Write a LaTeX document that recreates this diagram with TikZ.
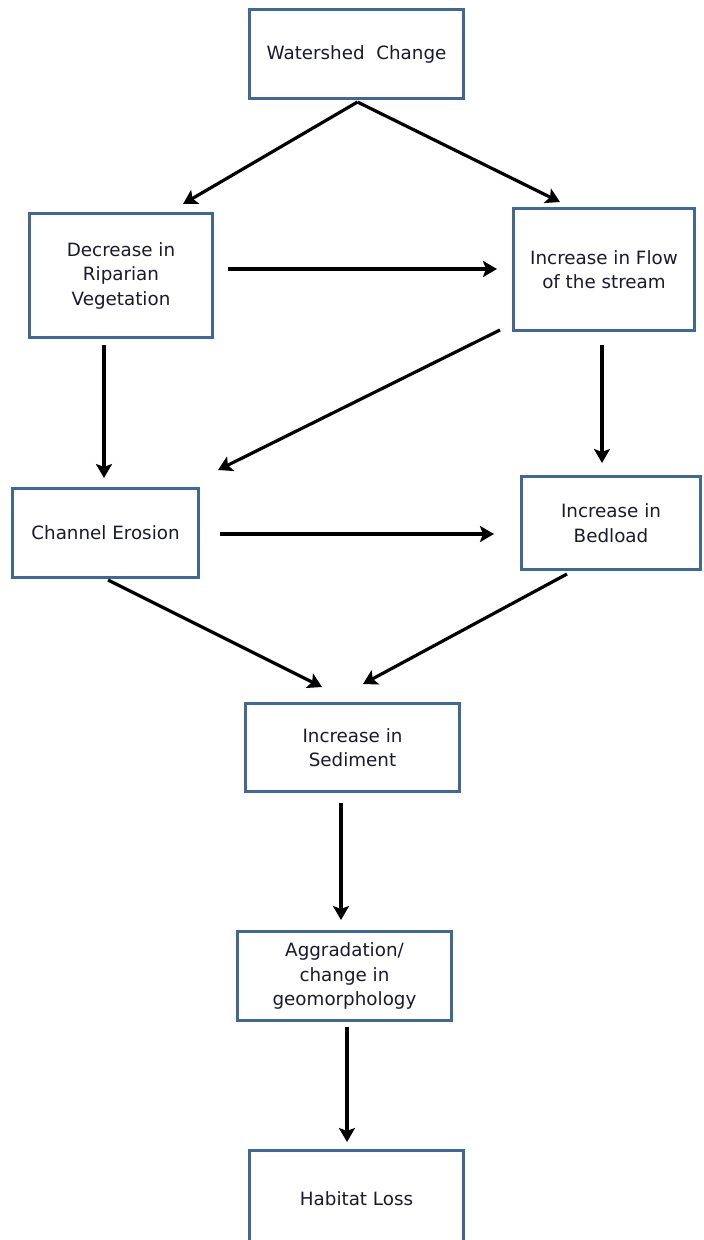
\documentclass[tikz,border=0pt]{standalone}
\usepackage{fontspec}
\setmainfont{DejaVu Sans}
\usetikzlibrary{arrows.meta}
\definecolor{boxblue}{HTML}{41679A}
\definecolor{txt}{HTML}{1A1A2E}
\tikzset{
  box/.style={draw=boxblue, line width=3pt, fill=white, rectangle, align=center,
    inner sep=0pt, text=txt, font=\fontsize{18.3}{24.5}\selectfont},
  arr/.style={line width=3.2pt, -{Stealth[length=14pt,width=16pt,inset=3pt]}},
}
\begin{document}
\begin{tikzpicture}[x=1pt,y=-1pt]
\clip (0,0) rectangle (704,1240);
\fill[white] (0,0) rectangle (704,1240);
\node[box, minimum width=214pt, minimum height=89pt] (ws) at (356.5,54) {Watershed\ \ Change};
\node[box, minimum width=183pt, minimum height=124pt] (dec) at (121,275.5) {Decrease in\\Riparian\\Vegetation};
\node[box, minimum width=181pt, minimum height=122pt] (flow) at (604,269.5) {Increase in Flow\\of the stream};
\node[box, minimum width=186pt, minimum height=89pt] (er) at (105.5,533) {Channel Erosion};
\node[box, minimum width=179pt, minimum height=93pt] (bed) at (611,523) {Increase in\\Bedload};
\node[box, minimum width=214pt, minimum height=88pt] (sed) at (352.5,747.5) {Increase in\\Sediment};
\node[box, minimum width=214pt, minimum height=89pt] (agg) at (344.5,976) {Aggradation/\\change in\\geomorphology};
\node[box, minimum width=214pt, minimum height=97pt] (hab) at (356.5,1199) {Habitat Loss};

\draw[arr] ([xshift=1pt,yshift=-2pt]ws.south) -- ([xshift=62pt,yshift=8pt]dec.north);
\draw[arr] ([xshift=1pt,yshift=-2pt]ws.south) -- ([xshift=-44pt,yshift=5pt]flow.north);
\draw[arr] ([xshift=14pt,yshift=6.5pt]dec.east) -- ([xshift=-15pt,yshift=0.5pt]flow.west);
\draw[arr] ([xshift=-17pt,yshift=-6pt]dec.south) -- ([xshift=-1.5pt,yshift=9pt]er.north);
\draw[arr] ([xshift=-12pt,yshift=2pt]flow.south west) -- ([xshift=18pt,yshift=17pt]er.north east);
\draw[arr] ([xshift=-2pt,yshift=-13pt]flow.south) -- ([xshift=-9pt,yshift=12pt]bed.north);
\draw[arr] ([xshift=20pt,yshift=-1pt]er.east) -- ([xshift=-26pt,yshift=-11pt]bed.west);
\draw[arr] ([xshift=2.5pt,yshift=-1pt]er.south) -- ([xshift=-30.5pt,yshift=15pt]sed.north);
\draw[arr] ([xshift=-44pt,yshift=-3pt]bed.south) -- ([xshift=10.5pt,yshift=18pt]sed.north);
\draw[arr] ([xshift=-11.5pt,yshift=-10pt]sed.south) -- ([xshift=-3.5pt,yshift=10pt]agg.north);
\draw[arr] ([xshift=2.5pt,yshift=-5pt]agg.south) -- ([xshift=-9.5pt,yshift=7pt]hab.north);
\end{tikzpicture}
\end{document}
